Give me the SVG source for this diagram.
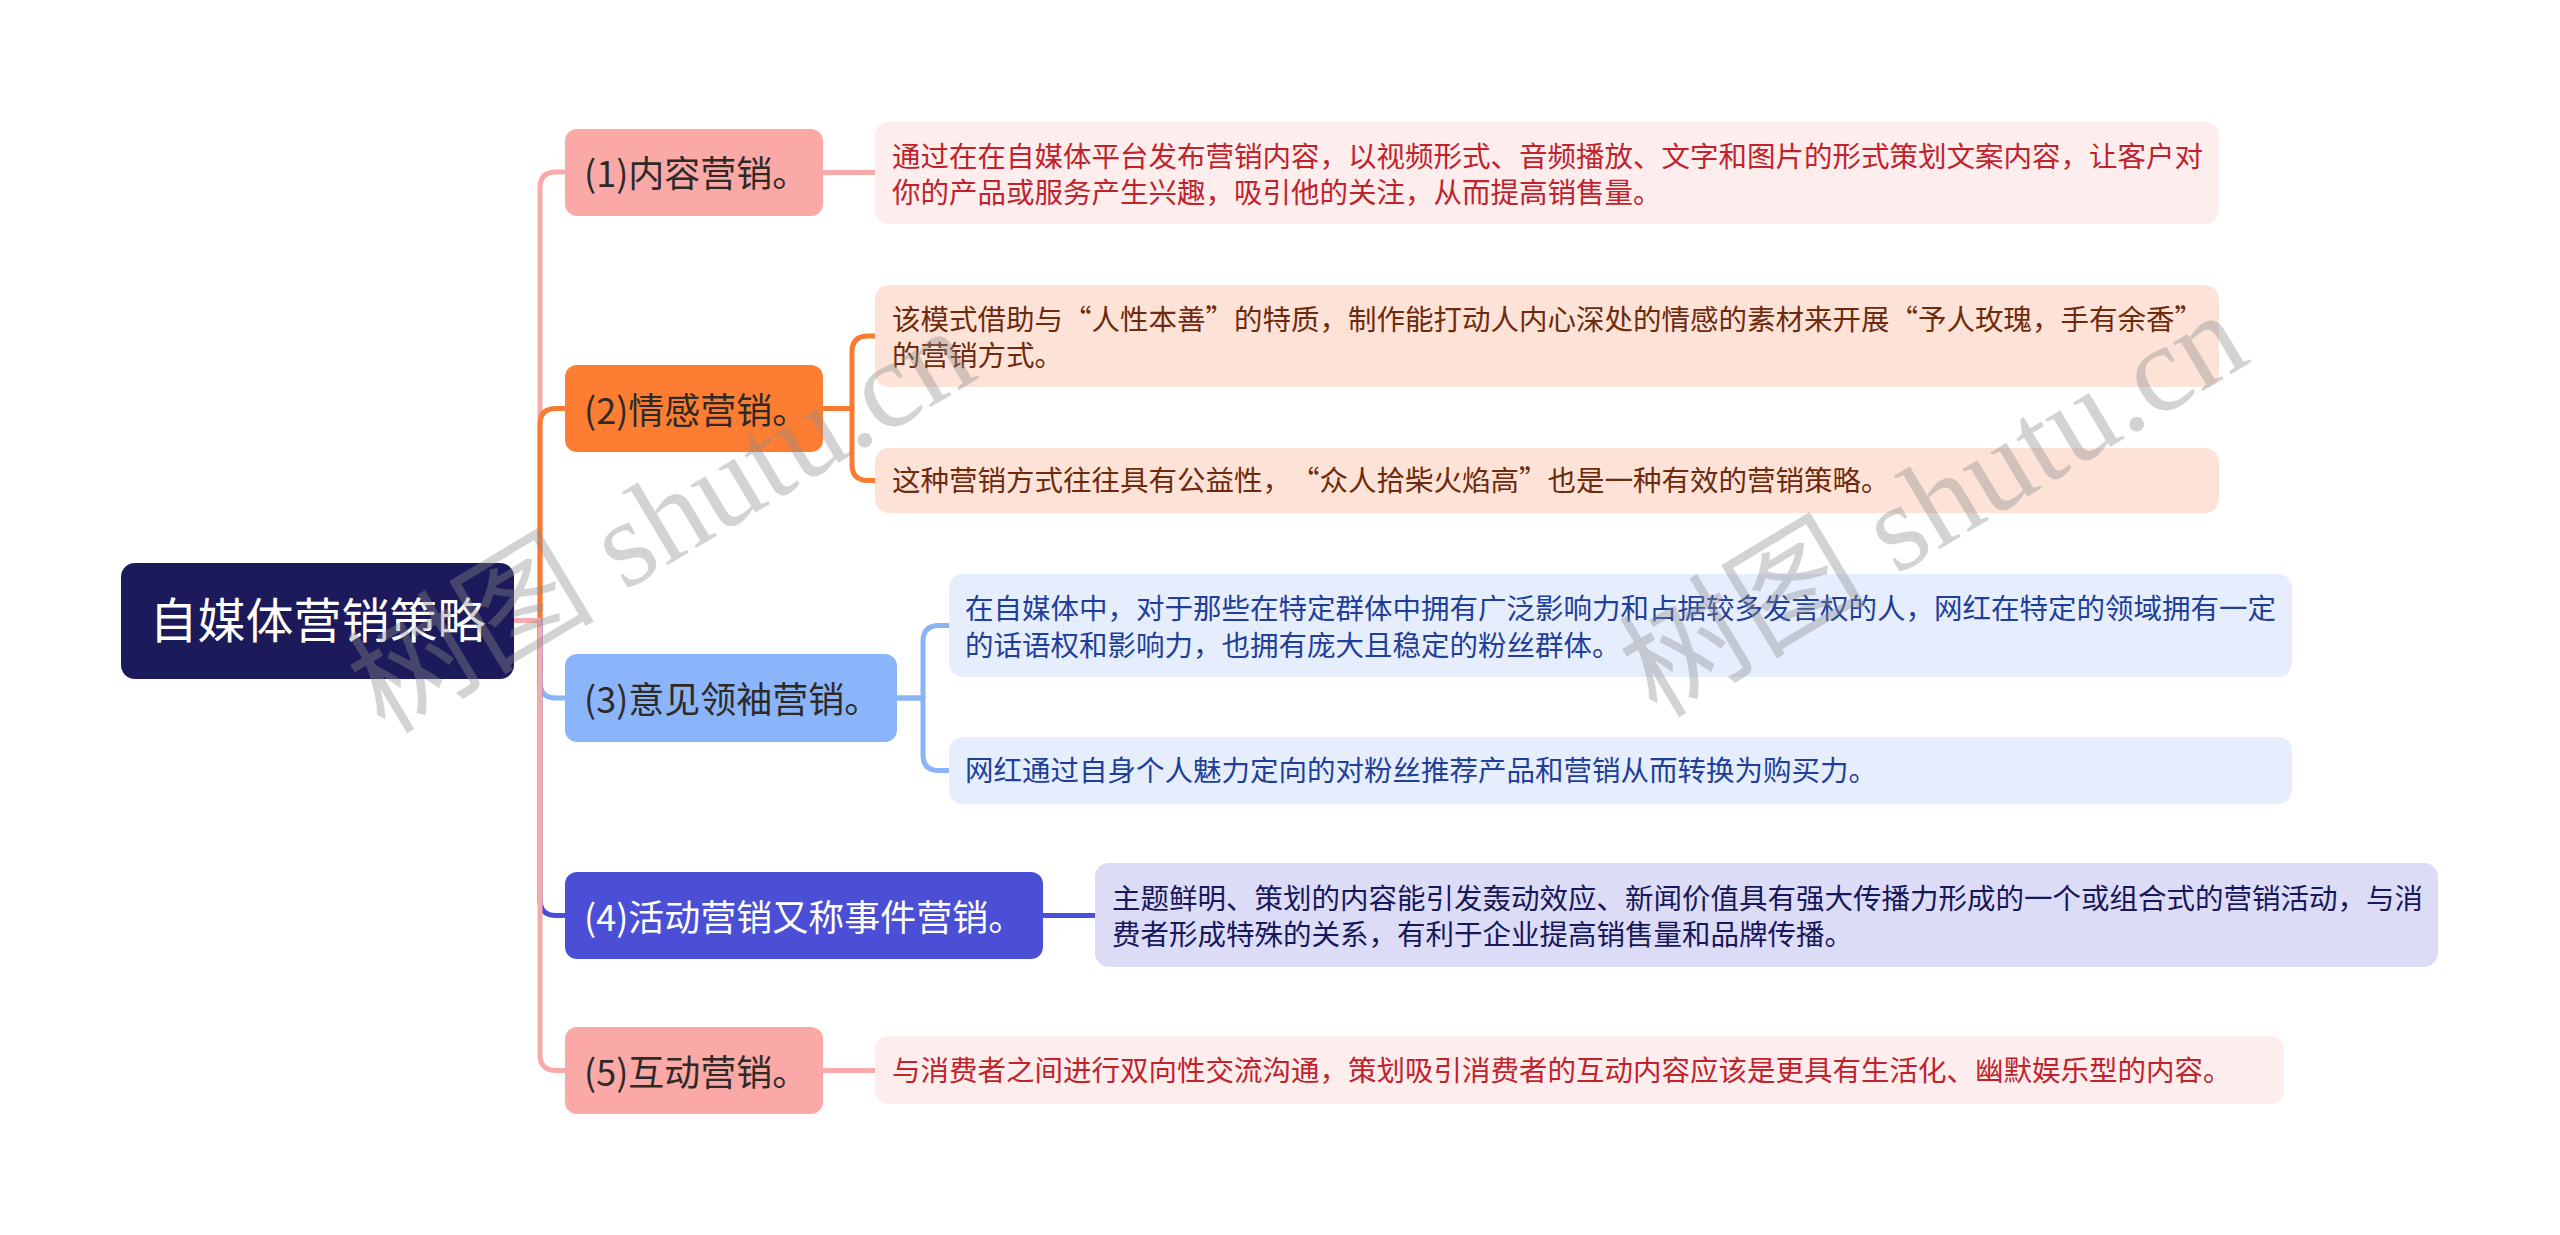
<svg xmlns="http://www.w3.org/2000/svg" width="2560" height="1235" viewBox="0 0 2560 1235">
<style>
  text { font-family: "Noto Sans CJK SC", "Microsoft YaHei", sans-serif; text-spacing-trim: space-all; }
  .root-box { fill: #1c1a5a; }
  .root-txt { fill: #ffffff; font-size: 48px; text-anchor: middle; }
  .l1-txt { font-size: 36px; fill: #2f2a28; }
  .leaf-txt { font-size: 28.5px; }
  .pink { fill: #faa9a7; }
  .orange { fill: #fd7e32; }
  .blue { fill: #8bb5fb; }
  .indigo { fill: #4a4fd6; }
  .leaf-pink { fill: #fdeded; }
  .leaf-orange { fill: #fde3d7; }
  .leaf-blue { fill: #e6eefd; }
  .leaf-indigo { fill: #dcdcf6; }
  .t-red { fill: #c0232c; }
  .t-brown { fill: #6e2a0c; }
  .t-blue { fill: #1f3f98; }
  .t-navy { fill: #17175a; }
  .conn { fill: none; stroke-width: 5; stroke-linejoin: round; }
  .c-pink { stroke: #f7aaa9; }
  .c-orange { stroke: #f67c34; }
  .c-blue { stroke: #8bb4f8; }
  .c-indigo { stroke: #4a4fd6; }
  .wm { font-family: "Liberation Serif", "Noto Sans CJK SC", serif; font-size: 124px; fill: #8c8c8c; fill-opacity: 0.38; text-anchor: middle; }
</style>

<g id="connectors">
  <path class="conn c-pink" d="M514,620.5 H540 V188 Q540,172 556,172 H566"/>
  <path class="conn c-orange" d="M514,620.5 H540 V424.5 Q540,408.5 556,408.5 H566"/>
  <path class="conn c-blue" d="M514,620.5 H540 V682 Q540,698 556,698 H566"/>
  <path class="conn c-indigo" d="M514,620.5 H540 V899.5 Q540,915.5 556,915.5 H566"/>
  <path class="conn c-pink" d="M514,620.5 H540 V1054.5 Q540,1070.5 556,1070.5 H566"/>
  <path class="conn c-pink" d="M823,172.5 H876"/>
  <path class="conn c-orange" d="M823,408.5 H852 V352 Q852,336 868,336 H876"/>
  <path class="conn c-orange" d="M823,408.5 H852 V464.5 Q852,480.5 868,480.5 H876"/>
  <path class="conn c-blue" d="M897,698 H923 V641.5 Q923,625.5 939,625.5 H950"/>
  <path class="conn c-blue" d="M897,698 H923 V754.5 Q923,770.5 939,770.5 H950"/>
  <path class="conn c-indigo" d="M1043,915.5 H1096"/>
  <path class="conn c-pink" d="M823,1070.5 H876"/>
</g>

<g id="root">
  <rect class="root-box" x="121" y="563" width="393" height="116" rx="14"/>
  <text class="root-txt" x="317.5" y="638">自媒体营销策略</text>
</g>

<g id="n1">
  <rect class="pink" x="565" y="129" width="258" height="87" rx="12"/>
  <text class="l1-txt" x="584" y="187">(1)内容营销。</text>
</g>
<g id="n2">
  <rect class="orange" x="565" y="365" width="258" height="87" rx="12"/>
  <text class="l1-txt" x="584" y="423.5">(2)情感营销。</text>
</g>
<g id="n3">
  <rect class="blue" x="565" y="654" width="332" height="88" rx="12"/>
  <text class="l1-txt" x="584" y="713">(3)意见领袖营销。</text>
</g>
<g id="n4">
  <rect class="indigo" x="565" y="872" width="478" height="87" rx="12"/>
  <text class="l1-txt" x="584" y="930.5" style="fill:#ffffff">(4)活动营销又称事件营销。</text>
</g>
<g id="n5">
  <rect class="pink" x="565" y="1027" width="258" height="87" rx="12"/>
  <text class="l1-txt" x="584" y="1085.5">(5)互动营销。</text>
</g>

<g id="l1">
  <rect class="leaf-pink" x="875" y="122" width="1344" height="102" rx="14"/>
  <text class="leaf-txt t-red" x="892" y="166.5">通过在在自媒体平台发布营销内容，以视频形式、音频播放、文字和图片的形式策划文案内容，让客户对</text>
  <text class="leaf-txt t-red" x="892" y="203">你的产品或服务产生兴趣，吸引他的关注，从而提高销售量。</text>
</g>
<g id="l2a">
  <rect class="leaf-orange" x="875" y="285" width="1344" height="102" rx="14"/>
  <text class="leaf-txt t-brown" x="892" y="329.5">该模式借助与“人性本善”的特质，制作能打动人内心深处的情感的素材来开展“予人玫瑰，手有余香”</text>
  <text class="leaf-txt t-brown" x="892" y="366">的营销方式。</text>
</g>
<g id="l2b">
  <rect class="leaf-orange" x="875" y="448" width="1344" height="65" rx="14"/>
  <text class="leaf-txt t-brown" x="892" y="491">这种营销方式往往具有公益性，“众人拾柴火焰高”也是一种有效的营销策略。</text>
</g>
<g id="l3a">
  <rect class="leaf-blue" x="949" y="574" width="1343" height="103" rx="14"/>
  <text class="leaf-txt t-blue" x="965" y="619">在自媒体中，对于那些在特定群体中拥有广泛影响力和占据较多发言权的人，网红在特定的领域拥有一定</text>
  <text class="leaf-txt t-blue" x="965" y="655.5">的话语权和影响力，也拥有庞大且稳定的粉丝群体。</text>
</g>
<g id="l3b">
  <rect class="leaf-blue" x="949" y="737" width="1343" height="67" rx="14"/>
  <text class="leaf-txt t-blue" x="965" y="781">网红通过自身个人魅力定向的对粉丝推荐产品和营销从而转换为购买力。</text>
</g>
<g id="l4">
  <rect class="leaf-indigo" x="1095" y="863" width="1343" height="104" rx="14"/>
  <text class="leaf-txt t-navy" x="1112" y="908.5">主题鲜明、策划的内容能引发轰动效应、新闻价值具有强大传播力形成的一个或组合式的营销活动，与消</text>
  <text class="leaf-txt t-navy" x="1112" y="945">费者形成特殊的关系，有利于企业提高销售量和品牌传播。</text>
</g>
<g id="l5">
  <rect class="leaf-pink" x="875" y="1036" width="1409" height="68" rx="14"/>
  <text class="leaf-txt t-red" x="892" y="1080.5">与消费者之间进行双向性交流沟通，策划吸引消费者的互动内容应该是更具有生活化、幽默娱乐型的内容。</text>
</g>

<g id="watermark">
  <text class="wm" transform="translate(683,556) rotate(-31)">树图 shutu.cn</text>
  <text class="wm" transform="translate(1955,540) rotate(-31)">树图 shutu.cn</text>
</g>
</svg>
